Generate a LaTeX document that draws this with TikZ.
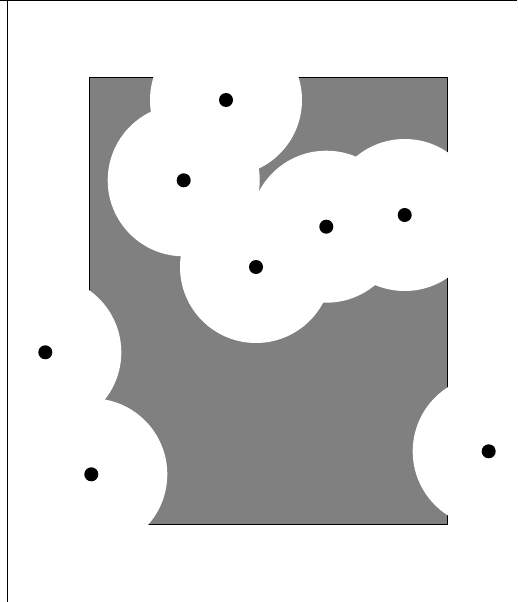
\documentclass[tikz,border=0pt]{standalone}
\usepackage{tikz}

\begin{document}
\begin{tikzpicture}[
  x=1pt, y=-1pt,
  frame/.style={draw=black, line width=0.8pt},
  region/.style={fill=black!50, draw=black, line width=0.8pt},
  disk/.style={fill=white},
  dot/.style={circle, fill=black, inner sep=0pt, minimum size=14pt},
]
\useasboundingbox (0,0) rectangle (517,602);

% Grey region
\draw[region] (89,77) rectangle (447,524);

% Sample points
\foreach \i/\x/\y in {1/226/100, 2/183.7/180.3, 3/256/267, 4/326.3/226.7,
                      5/404.7/215, 6/45.3/352.3, 7/91.3/474.3, 8/488.7/451.3}
  \coordinate (p\i) at (\x,\y);

% Covered disks
\foreach \i in {1,...,8}
  \fill[disk] (p\i) circle (76pt);

% Centres
\foreach \i in {1,...,8}
  \node[dot] (d\i) at (p\i) {};

% Frame edges (on top)
\coordinate (tl) at (0,0.4);
\coordinate (tr) at (517,0.4);
\coordinate (lt) at (7.5,0);
\coordinate (lb) at (7.5,602);
\draw[frame] (tl) -- (tr);
\draw[frame] (lt) -- (lb);

\end{tikzpicture}
\end{document}
